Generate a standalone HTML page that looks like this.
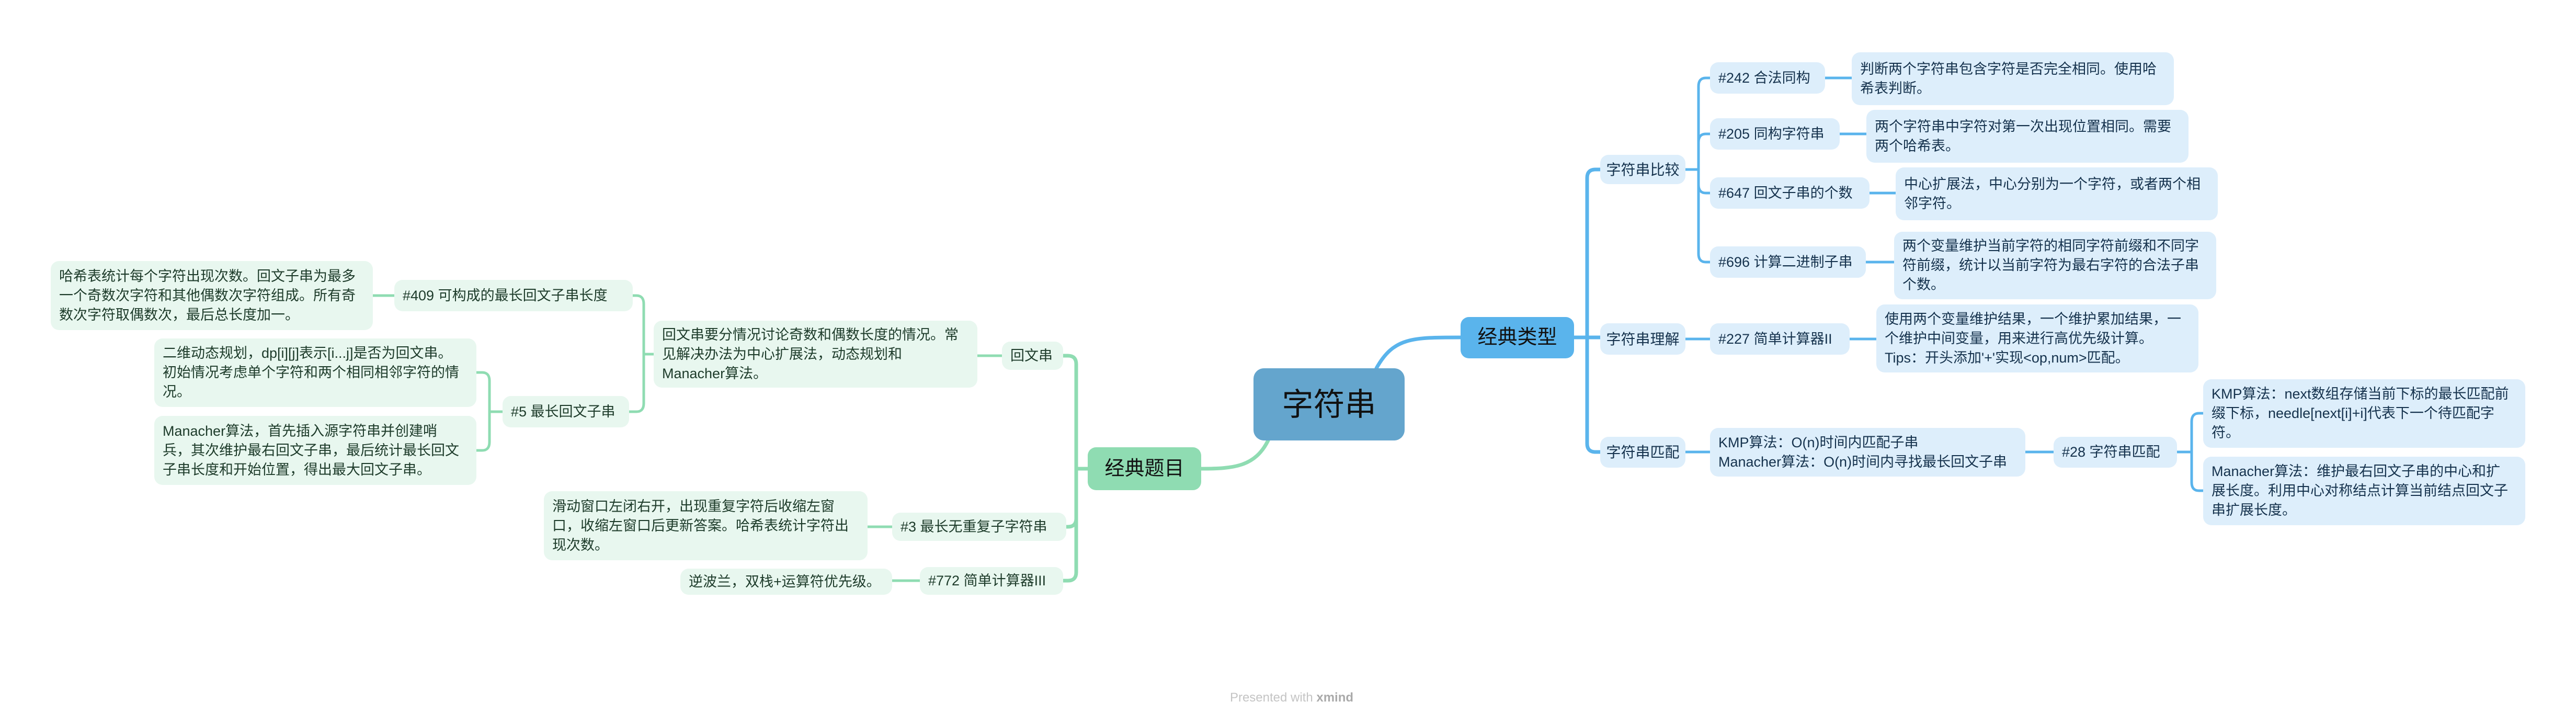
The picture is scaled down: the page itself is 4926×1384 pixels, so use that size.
<!DOCTYPE html>
<html><head><meta charset="utf-8">
<style>
*{margin:0;padding:0;box-sizing:border-box}
body{width:4926px;height:1384px;background:#fff;position:relative;overflow:hidden;font-family:"Liberation Sans","Noto Sans CJK SC",sans-serif}
.n{position:absolute;display:flex;align-items:center;border-radius:16px;font-size:27px;line-height:37px;white-space:nowrap;padding-left:16px}
.b{background:#ddeefb;color:#15324d}
.g{background:#e8f7ef;color:#1d3b2a}
.c{justify-content:center;padding-left:0}
svg{position:absolute;left:0;top:0}
</style></head><body>
<svg width="4926" height="1384" fill="none" stroke-linecap="round">
<g stroke="#5ab4ec" stroke-width="7">
<path d="M2632,704 C2665,645 2700,645 2793,645"/>
<path d="M3010,645 H3035 V340 Q3035,324 3051,324 H3060"/>
<path d="M3010,645 H3060"/>
<path d="M3035,645 V848 Q3035,864 3051,864 H3060"/>
</g>
<g stroke="#5ab4ec" stroke-width="5">
<path d="M3223,324 H3248 V165 Q3248,149 3262,149 H3270"/>
<path d="M3248,324 V272 Q3248,256 3262,256 H3270"/>
<path d="M3248,324 V353 Q3248,369 3262,369 H3270"/>
<path d="M3248,324 V485 Q3248,501 3262,501 H3270"/>
<path d="M3223,648 H3270"/>
<path d="M3223,864 H3270"/>
<path d="M3490,149 H3541"/>
<path d="M3518,256 H3569"/>
<path d="M3575,369 H3625"/>
<path d="M3568,501 H3622"/>
<path d="M3537,648 H3588"/>
<path d="M3873,864 H3927"/>
<path d="M4163,864 H4191 V806 Q4191,790 4205,790 H4213"/>
<path d="M4191,864 V922 Q4191,938 4205,938 H4213"/>
</g>
<g stroke="#8fdcb2" stroke-width="7">
<path d="M2425,842 C2400,892 2360,896 2297,896"/>
<path d="M2080,896 H2058 V696 Q2058,680 2042,680 H2033"/>
<path d="M2058,896 V991 Q2058,1007 2042,1007 H2039"/>
<path d="M2058,896 V1094 Q2058,1110 2042,1110 H2033"/>
</g>
<g stroke="#8fdcb2" stroke-width="5">
<path d="M1916,680 H1869"/>
<path d="M1250,677 H1231 V581 Q1231,565 1217,565 H1210"/>
<path d="M1231,677 V771 Q1231,787 1217,787 H1203"/>
<path d="M754,565 H713"/>
<path d="M961,787 H936 V728 Q936,712 922,712 H911"/>
<path d="M936,787 V845 Q936,861 922,861 H911"/>
<path d="M1706,1007 H1659"/>
<path d="M1759,1110 H1706"/>
</g>
</svg>

<div class="n c" style="left:2397px;top:704px;width:289px;height:138px;background:#64a5cd;color:#111;font-size:60px;border-radius:20px">字符串</div>
<div class="n c" style="left:2793px;top:606px;width:217px;height:79px;background:#5ab4ec;color:#111;font-size:38px">经典类型</div>
<div class="n c" style="left:2080px;top:855px;width:217px;height:82px;background:#8fdcb2;color:#111;font-size:38px">经典题目</div>

<div class="n b c" style="left:3060px;top:296px;width:163px;height:56px;font-size:28px">字符串比较</div>
<div class="n b c" style="left:3060px;top:618px;width:163px;height:60px;font-size:28px">字符串理解</div>
<div class="n b c" style="left:3060px;top:835px;width:163px;height:59px;font-size:28px">字符串匹配</div>

<div class="n b" style="left:3270px;top:119px;width:220px;height:60px">#242 合法同构</div>
<div class="n b" style="left:3541px;top:100px;width:616px;height:101px">判断两个字符串包含字符是否完全相同。使用哈<br>希表判断。</div>
<div class="n b" style="left:3270px;top:226px;width:248px;height:60px">#205 同构字符串</div>
<div class="n b" style="left:3569px;top:210px;width:616px;height:101px">两个字符串中字符对第一次出现位置相同。需要<br>两个哈希表。</div>
<div class="n b" style="left:3270px;top:339px;width:305px;height:60px">#647 回文子串的个数</div>
<div class="n b" style="left:3625px;top:320px;width:616px;height:101px">中心扩展法，中心分别为一个字符，或者两个相<br>邻字符。</div>
<div class="n b" style="left:3270px;top:471px;width:298px;height:60px">#696 计算二进制子串</div>
<div class="n b" style="left:3622px;top:443px;width:616px;height:129px">两个变量维护当前字符的相同字符前缀和不同字<br>符前缀，统计以当前字符为最右字符的合法子串<br>个数。</div>
<div class="n b" style="left:3270px;top:618px;width:267px;height:60px">#227 简单计算器II</div>
<div class="n b" style="left:3588px;top:582px;width:616px;height:130px">使用两个变量维护结果，一个维护累加结果，一<br>个维护中间变量，用来进行高优先级计算。<br>Tips：开头添加'+'实现&lt;op,num&gt;匹配。</div>
<div class="n b" style="left:3270px;top:818px;width:603px;height:93px">KMP算法：O(n)时间内匹配子串<br>Manacher算法：O(n)时间内寻找最长回文子串</div>
<div class="n b" style="left:3927px;top:835px;width:236px;height:59px">#28 字符串匹配</div>
<div class="n b" style="left:4213px;top:725px;width:616px;height:131px">KMP算法：next数组存储当前下标的最长匹配前<br>缀下标，needle[next[i]+i]代表下一个待匹配字<br>符。</div>
<div class="n b" style="left:4213px;top:873px;width:616px;height:131px">Manacher算法：维护最右回文子串的中心和扩<br>展长度。利用中心对称结点计算当前结点回文子<br>串扩展长度。</div>

<div class="n g" style="left:1916px;top:653px;width:117px;height:54px">回文串</div>
<div class="n g" style="left:1250px;top:613px;width:619px;height:128px">回文串要分情况讨论奇数和偶数长度的情况。常<br>见解决办法为中心扩展法，动态规划和<br>Manacher算法。</div>
<div class="n g" style="left:754px;top:535px;width:456px;height:60px">#409 可构成的最长回文子串长度</div>
<div class="n g" style="left:97px;top:499px;width:616px;height:132px">哈希表统计每个字符出现次数。回文子串为最多<br>一个奇数次字符和其他偶数次字符组成。所有奇<br>数次字符取偶数次，最后总长度加一。</div>
<div class="n g" style="left:961px;top:757px;width:242px;height:60px">#5 最长回文子串</div>
<div class="n g" style="left:295px;top:647px;width:616px;height:131px">二维动态规划，dp[i][j]表示[i...j]是否为回文串。<br>初始情况考虑单个字符和两个相同相邻字符的情<br>况。</div>
<div class="n g" style="left:295px;top:795px;width:616px;height:132px">Manacher算法，首先插入源字符串并创建哨<br>兵，其次维护最右回文子串，最后统计最长回文<br>子串长度和开始位置，得出最大回文子串。</div>
<div class="n g" style="left:1706px;top:980px;width:333px;height:54px">#3 最长无重复子字符串</div>
<div class="n g" style="left:1040px;top:939px;width:619px;height:132px">滑动窗口左闭右开，出现重复字符后收缩左窗<br>口，收缩左窗口后更新答案。哈希表统计字符出<br>现次数。</div>
<div class="n g" style="left:1759px;top:1084px;width:274px;height:53px">#772 简单计算器III</div>
<div class="n g" style="left:1301px;top:1087px;width:405px;height:50px">逆波兰，双栈+运算符优先级。</div>

<div style="position:absolute;left:2330px;top:1320px;width:280px;text-align:center;font-size:24px;color:#c4c4c4">Presented with <b style="color:#aaa">xmind</b></div>
</body></html>
